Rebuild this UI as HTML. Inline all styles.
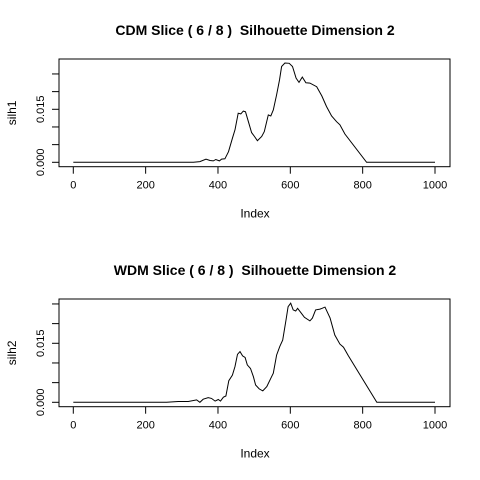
<!DOCTYPE html>
<html><head><meta charset="utf-8"><style>
body{margin:0;background:#fff}
svg{display:block;font-family:"Liberation Sans",sans-serif}
text{white-space:pre}
</style></head><body>
<svg id="c" width="480" height="480"></svg>
<script>
const xTicks=[0,200,400,600,800,1000];
const yTicks=[0,0.005,0.010,0.015,0.020,0.025];
const yTickLabels={0:"0.000",0.015:"0.015"};
const cdmIdx=[0,332,350,367,378,387,394,404,410,419,429,440,447,456,463,470,476,484,493,501,509,521,528,539,546,553,562,570,576,585,597,606,616,624,633,643,654,673,687,700,714,728,737,751,811,1000];
const cdmVal=[0,0,.0002,.0009,.0005,.0004,.0008,.0004,.0009,.001,.003,.0068,.0092,.0139,.0137,.0145,.0143,.0115,.0084,.0073,.0061,.0073,.0087,.0134,.0131,.0148,.0191,.0233,.0271,.0281,.028,.0271,.0238,.0226,.0241,.0225,.0224,.0214,.0188,.0158,.0131,.0115,.0106,.008,0,0];
const wdmIdx=[0,258,290,318,341,350,359,373,382,392,401,407,415,422,430,440,447,454,461,468,475,481,490,498,504,514,524,535,546,553,562,571,579,588,594,601,608,615,620,631,639,654,661,670,682,688,696,710,723,737,747,760,839,1000];
const wdmVal=[0,0,.0002,.0002,.0006,0,.0008,.0012,.001,.0003,.0007,.0003,.0013,.0016,.0055,.0069,.0091,.0122,.0129,.0118,.0114,.0095,.0086,.0065,.0044,.0034,.0029,.004,.0061,.0074,.012,.0142,.0158,.0209,.0243,.0252,.0235,.0232,.0239,.0226,.0216,.0207,.0214,.0235,.0237,.0239,.0242,.0214,.0171,.0148,.014,.0119,0,0];
const svg=document.getElementById('c');
const NS='http://www.w3.org/2000/svg';
function mk(t,a,p){const e=document.createElementNS(NS,t);for(const k in a)e.setAttribute(k,a[k]);(p||svg).appendChild(e);return e;}
function panel(title,ylab,idx,val,top,bottom,y0,yStep,name){
  const g=mk('g',{});
  
  
  const L=59,R=450,x0=73.3,x1=435;
  const sx=v=>x0+(x1-x0)*v/1000;
  const sy=v=>y0-yStep*v/0.005;
  const t=mk('text',{x:255,y:top-24,'text-anchor':'middle','font-size':14,'font-weight':'bold'},g);t.textContent=title;
  
  
  const box=mk('rect',{x:L,y:top,width:R-L,height:bottom-top,fill:'none',stroke:'#000','stroke-width':1},g);
  
  
  xTicks.forEach(v=>{const x=sx(v);mk('line',{x1:x,x2:x,y1:bottom,y2:bottom+7,stroke:'#000'},g);
    const tx=mk('text',{x:x,y:bottom+22,'text-anchor':'middle','font-size':11},g);tx.textContent=v;
    
    });
  yTicks.forEach(v=>{const y=sy(v);mk('line',{x1:L,x2:L-7,y1:y,y2:y,stroke:'#000'},g);
    if(yTickLabels[v]!==undefined){const ty=mk('text',{x:0,y:0,'text-anchor':'middle','font-size':11,transform:`translate(${L-15},${y}) rotate(-90)`},g);ty.textContent=yTickLabels[v];
    
    }});
  const xl=mk('text',{x:255,y:bottom+51,'text-anchor':'middle','font-size':12},g);xl.textContent='Index';
  
  
  const yl=mk('text',{x:0,y:0,'text-anchor':'middle','font-size':12,transform:`translate(16,${(top+bottom)/2}) rotate(-90)`},g);yl.textContent=ylab;
  
  
  const d=idx.map((v,i)=>(i?'L':'M')+sx(v).toFixed(1)+','+sy(val[i]).toFixed(1)).join('');
  const p=mk('path',{d:d,fill:'none',stroke:'#000','stroke-width':1},g);
  
  
}
panel('CDM Slice ( 6 / 8 )  Silhouette Dimension 2','silh1',cdmIdx,cdmVal,59,166.7,162.3,17.67,'cdm-panel');
panel('WDM Slice ( 6 / 8 )  Silhouette Dimension 2','silh2',wdmIdx,wdmVal,299,406.7,402.3,19.67,'wdm-panel');
</script>
</body></html>
